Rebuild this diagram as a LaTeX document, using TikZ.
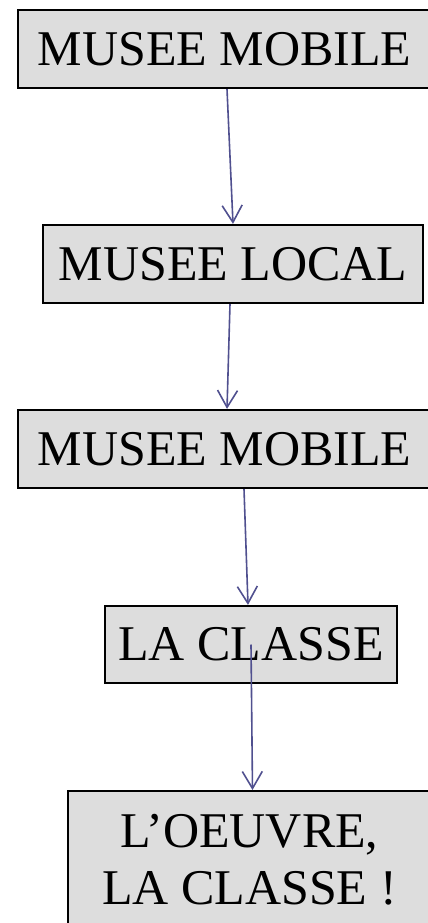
\documentclass[tikz,border=0pt]{standalone}
\usepackage{fontspec}
\setmainfont{Liberation Serif}
\usepackage{tikz}
\usetikzlibrary{arrows.meta}

\definecolor{boxgray}{HTML}{DDDDDD}
\definecolor{linkblue}{HTML}{50508F}

\begin{document}
\begin{tikzpicture}[x=1pt,y=-1pt,>={Straight Barb[length=17pt,width=20pt]},
  box/.style={rectangle,draw=black,line width=2.2pt,fill=boxgray,inner sep=0pt,font=\fontsize{50}{57}\selectfont},
  link/.style={->,draw=linkblue,line width=1.6pt}]

  \useasboundingbox (0,0) rectangle (428,923);
  \clip (0,0) rectangle (428,923);

  \node[box,minimum width=413pt,minimum height=78pt] (mobile1) at (224.5,49) {MUSEE MOBILE};
  \node[box,minimum width=380pt,minimum height=78pt] (local) at (233,264) {MUSEE LOCAL};
  \node[box,minimum width=413pt,minimum height=78pt] (mobile2) at (224.5,449) {MUSEE MOBILE};
  \node[box,minimum width=292pt,minimum height=77pt] (classe) at (251,644.5) {LA CLASSE};
  \node[box,anchor=north,minimum width=363pt,inner ysep=23pt,align=center] (oeuvre) at (249.5,790) {L’OEUVRE,\\LA CLASSE !};

  \draw[link] ([xshift=2.5pt]mobile1.south) -- (local.north);
  \draw[link] ([xshift=-3pt]local.south) -- ([xshift=2.5pt]mobile2.north);
  \draw[link] ([xshift=19.5pt]mobile2.south) -- ([xshift=-3pt]classe.north);
  \draw[link] (classe.center) -- ([xshift=3pt]oeuvre.north);

\end{tikzpicture}
\end{document}
